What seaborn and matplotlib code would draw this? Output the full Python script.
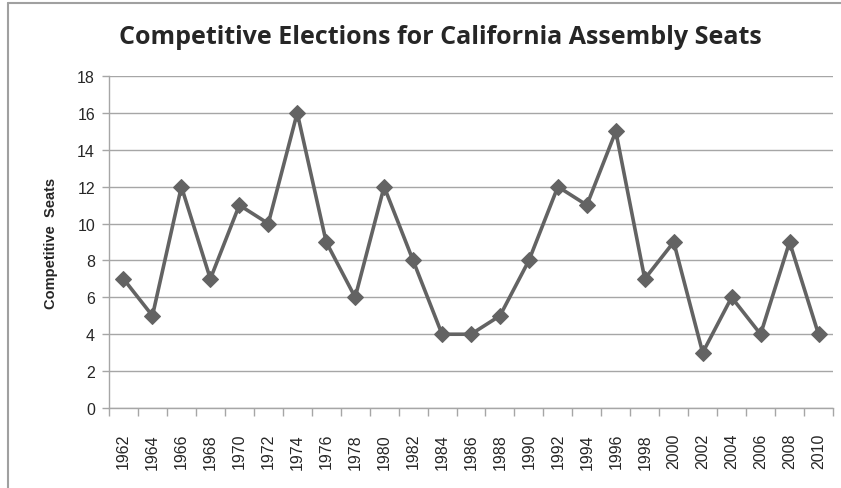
import numpy as np
import pandas as pd
import seaborn as sns
import matplotlib.pyplot as plt
from matplotlib.lines import Line2D
from matplotlib.ticker import FixedLocator

years = [1962, 1964, 1966, 1968, 1970, 1972, 1974, 1976, 1978, 1980, 1982, 1984, 1986,
         1988, 1990, 1992, 1994, 1996, 1998, 2000, 2002, 2004, 2006, 2008, 2010]
seats = [7, 5, 12, 7, 11, 10, 16, 9, 6, 12, 8, 4, 4,
         5, 8, 12, 11, 15, 7, 9, 3, 6, 4, 9, 4]

df = pd.DataFrame({"year": years, "seats": seats})

sns.set_style("white")
plt.rcParams['font.family'] = ['Liberation Sans', 'DejaVu Sans']

fig = plt.figure(figsize=(8.41, 4.89), dpi=100)
ax = fig.add_axes([109 / 841, 80 / 489, (833 - 109) / 841, (409 - 77) / 489])

sns.lineplot(data=df, x="year", y="seats", ax=ax, color="#636363", linewidth=2.6,
             marker="D", markersize=8, markeredgecolor="#636363")

ax.set_xlim(years[0] - 1, years[-1] + 1)
ax.set_ylim(0, 18)
ax.set_yticks(range(0, 19, 2))
ax.grid(axis="y", color="#a6a6a6", linewidth=1)
ax.set_axisbelow(True)

# category style axis: ticks between categories, labels at centers
ax.xaxis.set_major_locator(FixedLocator([y - 1 for y in years] + [years[-1] + 1]))
ax.xaxis.set_minor_locator(FixedLocator(years))
ax.set_xticklabels([], minor=False)
ax.set_xticklabels([str(y) for y in years], minor=True, rotation=90, fontsize=11.5)
ax.tick_params(axis="x", which="major", length=6, width=1, color="#a6a6a6", direction="out", bottom=True)
ax.tick_params(axis="x", which="minor", length=0, pad=18)
ax.tick_params(axis="y", length=5, width=1, color="#a6a6a6", direction="out", left=True, labelsize=11.5, pad=5)

for s in ["top", "right"]:
    ax.spines[s].set_visible(False)
for s in ["left", "bottom"]:
    ax.spines[s].set_color("#a6a6a6")
    ax.spines[s].set_linewidth(1)

ax.set_xlabel("")
ax.set_ylabel("Competitive  Seats", fontsize=10.5, fontweight="bold", labelpad=14)

fig.text(440 / 841, 1 - 38 / 489, "Competitive Elections for California Assembly Seats",
         ha="center", va="center", fontsize=18, fontweight="bold",
         family=['Liberation Sans Narrow', 'Open Sans', 'DejaVu Sans'])

# chart border (left and top edges visible in the crop)
fig.add_artist(Line2D([8 / 841, 8 / 841], [0, 1 - 4 / 489], color="#a0a0a0", linewidth=1.5))
fig.add_artist(Line2D([8 / 841, 1], [1 - 4 / 489, 1 - 4 / 489], color="#a0a0a0", linewidth=1.5))

plt.savefig("out.png", dpi=100)
